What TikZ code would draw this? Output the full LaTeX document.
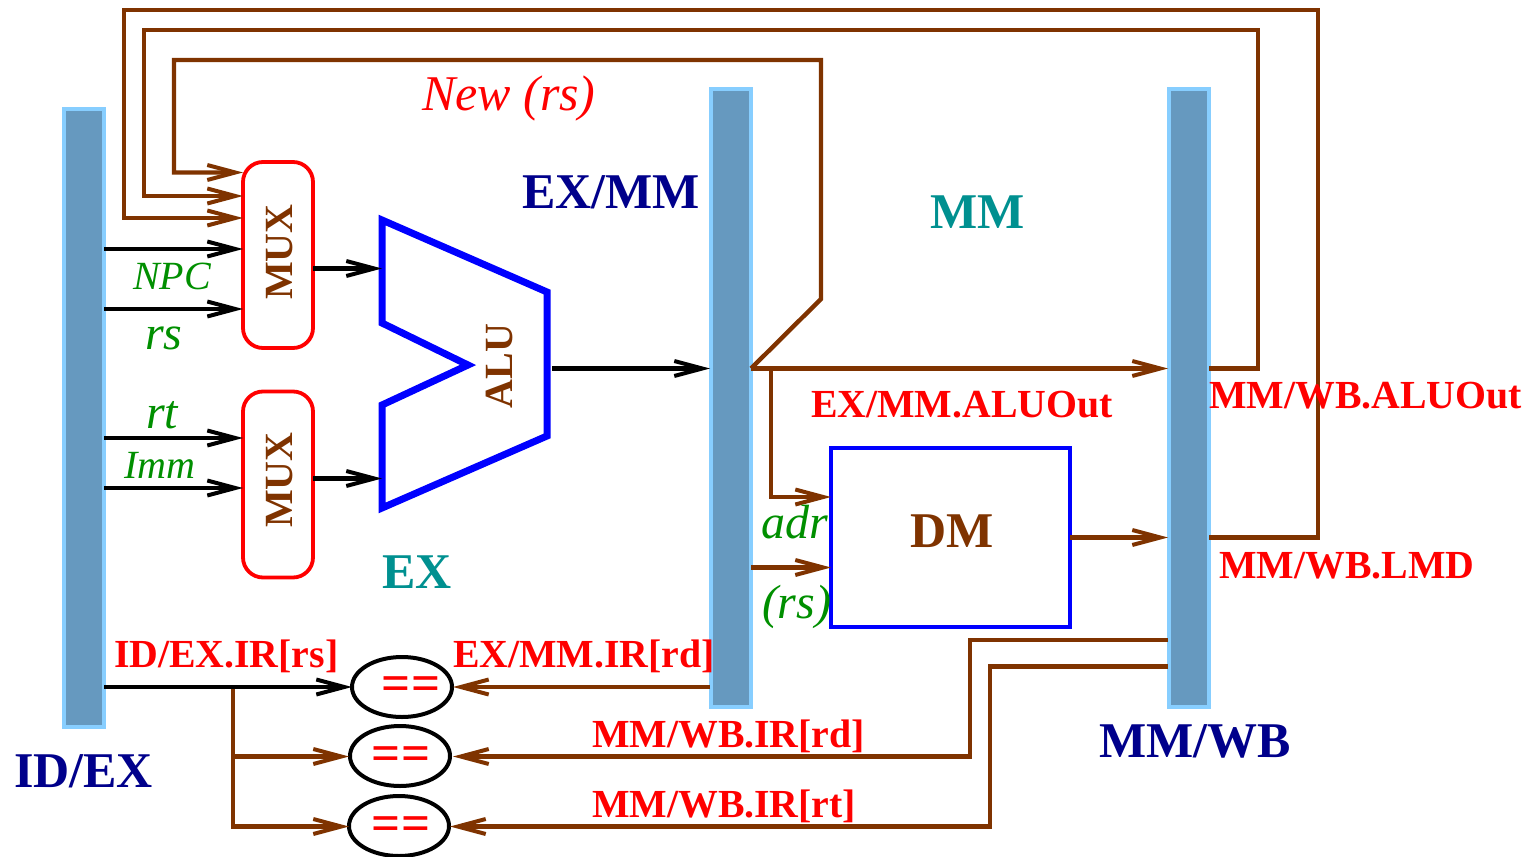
\documentclass[tikz,border=0pt]{standalone}
\usepackage{fontspec}
\setmainfont{Liberation Serif}
\usetikzlibrary{arrows.meta,shapes.geometric}
\definecolor{wirebrown}{HTML}{7F3300}
\definecolor{barfill}{HTML}{6699BF}
\definecolor{barline}{HTML}{87CEFF}
\definecolor{labteal}{HTML}{009090}
\definecolor{labnavy}{HTML}{00008B}
\definecolor{labgreen}{HTML}{008F00}
\newcommand{\fsz}[1]{\fontsize{#1}{#1}\selectfont}
\tikzset{
  x=1pt,y=-1pt,
  pipebar/.style={draw=barline,fill=barfill,line width=4pt,minimum width=40pt,minimum height=618pt,inner sep=0pt,outer sep=0pt},
  muxbox/.style={draw=red,line width=3.8pt,rounded corners=20pt,minimum width=70pt,minimum height=186pt,inner sep=0pt,outer sep=0pt},
  cmpnode/.style={draw=black,line width=4pt,ellipse,minimum width=100pt,minimum height=60pt,inner sep=0pt,outer sep=0pt},
  dmbox/.style={draw=blue,line width=4pt,minimum width=239pt,minimum height=179pt,inner sep=0pt,outer sep=0pt},
  tipped/.style={-{Straight Barb[length=28pt,width=15pt,line width=4pt]}},
  bw/.style={draw=wirebrown,line width=4.4pt,line join=miter},
  kw/.style={draw=black,line width=4.4pt},
  lab/.style={anchor=base west,inner sep=0pt,outer sep=0pt},
  redlab/.style={lab,text=red,font=\fsz{39.8}\bfseries},
  teallab/.style={lab,text=labteal,font=\fsz{50}\bfseries},
  navylab/.style={lab,text=labnavy,font=\fsz{50}\bfseries},
  greenbig/.style={lab,text=labgreen,font=\fsz{48}\itshape},
  greensmall/.style={lab,text=labgreen,font=\fsz{40}\itshape},
  brownrot/.style={text=wirebrown,font=\fsz{40}\bfseries,rotate=90,inner sep=0pt},
  eqsign/.style={text=red,font=\fsz{51}\bfseries,inner sep=0pt},
}
\begin{document}
\begin{tikzpicture}
\useasboundingbox (0,0) rectangle (1530,856);
% bars
\node[pipebar] (idex) at (84,418) {};
\node[pipebar] (exmm) at (731,398) {};
\node[pipebar] (mmwb) at (1189,398) {};
% mux
\node[muxbox] (muxa) at (278,255) {};
\node[muxbox] (muxb) at (278,484.5) {};
\node[dmbox] (dm) at (950.5,537.5) {};
% comparators
\node[cmpnode] (cmpa) at (402,687) {};
\node[cmpnode] (cmpb) at (400,756) {};
\node[cmpnode] (cmpc) at (399,826) {};
% ALU
\draw[blue,line width=7pt,miter limit=10] (382,220) coordinate (alua) -- (547,292) -- (547,436) -- (382,508) -- (382,405) -- (468,365) -- (382,323) -- cycle;
\coordinate (aluin) at (382,268.5);
\coordinate (aluinb) at (382,478.5);
\coordinate (aluout) at (552,368.5);
% anchors on bars and boxes
\coordinate (ma1) at (243,172.5); \coordinate (ma2) at (243,196); \coordinate (ma3) at (243,218);
\coordinate (ma4) at (243,249); \coordinate (ma5) at (243,309);
\coordinate (mb1) at (243,438); \coordinate (mb2) at (243,488);
\coordinate (ma0) at (313,268.5); \coordinate (mb0) at (313,478.5);
\coordinate (i1) at (104,249); \coordinate (i2) at (104,309); \coordinate (i3) at (104,438); \coordinate (i4) at (104,488); \coordinate (i5) at (104,687);
\coordinate (ca) at (352,687); \coordinate (cb) at (349,756.5); \coordinate (cc) at (349,826.5);
\coordinate (cae) at (453,687); \coordinate (cbe) at (453,756.5); \coordinate (cce) at (450,826.5);
\coordinate (e0) at (710,368.5); \coordinate (e1) at (751,368.5); \coordinate (e2) at (751,567.5); \coordinate (e3) at (710,687);
\coordinate (w0) at (1168,368.5); \coordinate (w1) at (1168,537.5); \coordinate (w2) at (1168,640); \coordinate (w3) at (1168,666.5);
\coordinate (w4) at (1209,368.5); \coordinate (w5) at (1209,537.5);
\coordinate (d1) at (831,497); \coordinate (d2) at (831,567.5); \coordinate (d3) at (1070,537.5);
\coordinate (j1) at (771,368.5); \coordinate (j2) at (233,687); \coordinate (j3) at (233,756.5);
% brown wires
\draw[bw,tipped] (w4) -- (1258,368.5) -- (1258,30) -- (144,30) -- (144,196) -- (ma2);
\draw[bw,tipped] (w5) -- (1318,537.5) -- (1318,10) -- (124,10) -- (124,218) -- (ma3);
\draw[bw,tipped] (e1) -- (821,299) -- (821,60) -- (174,60) -- (174,172.5) -- (ma1);
\draw[bw,tipped] (e1) -- (w0);
\draw[bw,tipped] (j1) -- (771,497) -- (d1);
\draw[bw,tipped] (e2) -- (d2);
\draw[bw,tipped] (d3) -- (w1);
\draw[bw,tipped] (e3) -- (cae);
\draw[bw,tipped] (w2) -- (970,640) -- (970,756.5) -- (cbe);
\draw[bw,tipped] (w3) -- (990,666.5) -- (990,826.5) -- (cce);
\draw[bw,tipped] (j2) -- (233,826.5) -- (cc);
\draw[bw,tipped] (j3) -- (cb);
% black wires
\draw[kw,tipped] (i1) -- (ma4);
\draw[kw,tipped] (i2) -- (ma5);
\draw[kw,tipped] (i3) -- (mb1);
\draw[kw,tipped] (i4) -- (mb2);
\draw[kw,tipped] (ma0) -- (aluin);
\draw[kw,tipped] (mb0) -- (aluinb);
\draw[kw,tipped] (aluout) -- (e0);
\draw[kw,tipped] (i5) -- (ca);
% texts
\node[brownrot] (tmuxa) at (280,252) {MUX};
\node[brownrot] (tmuxb) at (280,480) {MUX};
\node[brownrot] (talu) at (499,366) {ALU};
\node[eqsign] (eqa) at (411,689) {==};
\node[eqsign] (eqb) at (401,759) {==};
\node[eqsign] (eqc) at (401,829) {==};
\node[lab,text=wirebrown,font=\fsz{50}\bfseries] (tdm) at (910,547) {DM};
\node[lab,text=red,font=\fsz{50}\itshape] (tnew) at (422,111) {New (rs)};
\node[navylab] (texmm) at (522,208) {EX/MM};
\node[navylab] (tidex) at (14,787) {ID/EX};
\node[navylab] (tmmwb) at (1099,757) {MM/WB};
\node[teallab] (tmm) at (930,228) {MM};
\node[teallab] (tex) at (382,588) {EX};
\node[greensmall] (tnpc) at (133,289) {NPC};
\node[greenbig] (trs) at (145,349) {rs};
\node[greenbig] (trt) at (146,428) {rt};
\node[greensmall] (timm) at (124,478) {Imm};
\node[greenbig] (tadr) at (761,538) {adr};
\node[greenbig] (trsb) at (762,618) {(rs)};
\node[redlab] (l1) at (811,417) {EX/MM.ALUOut};
\node[redlab] (l2) at (1209,408) {MM/WB.ALUOut};
\node[redlab] (l3) at (1219,578) {MM/WB.LMD};
\node[redlab] (l4) at (114,667) {ID/EX.IR[rs]};
\node[redlab] (l5) at (453,667) {EX/MM.IR[rd]};
\node[redlab] (l6) at (592,747) {MM/WB.IR[rd]};
\node[redlab] (l7) at (592,817) {MM/WB.IR[rt]};
\end{tikzpicture}
\end{document}
